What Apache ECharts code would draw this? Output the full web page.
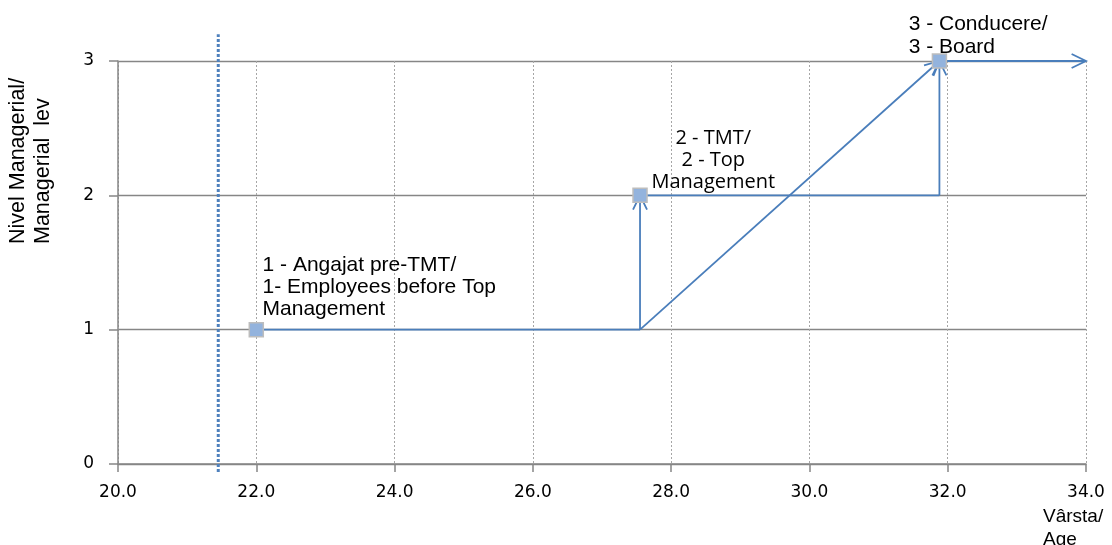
<!DOCTYPE html>
<html>
<head>
<meta charset="utf-8">
<script src="https://cdn.jsdelivr.net/npm/echarts@6/dist/echarts.min.js"></script>
<style>html,body{margin:0;padding:0;background:#fff;}#c{width:1112px;height:545px;}</style>
</head>
<body>
<div id="c"></div>
<script>
// ---- data ----
const ages = [22, 27.55, 31.88];
const levels = [1, 2, 3];
const levelLabels = [
  '1 - Angajat pre-TMT/\n1- Employees before Top\nManagement',
  '2 - TMT/\n2 - Top\nManagement',
  '3 - Conducere/\n3 - Board'
];
const arrowFrom = [[22, 1], [27.55, 1], [27.55, 1], [27.55, 2], [31.88, 2], [31.88, 3]];
const arrowTo   = [[27.55, 1], [27.55, 2], [31.88, 3], [31.88, 2], [31.88, 3], [34, 3]];
const arrowHead = [0, 1, 1, 0, 1, 1];
const dividerAge = 21.45;
const dividerRange = [-0.06, 3.2];
const xTitle = 'Vârsta/\nAge';
const yTitle = 'Nivel Managerial/\nManagerial  lev';

// ---- styles ----
const lineColor = '#4a7ebb';
const labelStyles = [
  {position: [14, -68], align: 'left', verticalAlign: 'top', fontFamily: 'Liberation Sans, Arial', fontSize: 21, lineHeight: 22},
  {position: [81, -60], align: 'center', verticalAlign: 'top', fontFamily: 'Open Sans', fontSize: 20, lineHeight: 22},
  {position: [-23, -41], align: 'left', verticalAlign: 'top', fontFamily: 'Liberation Sans, Arial', fontSize: 21, lineHeight: 23}
];

const arrowData = arrowFrom.map((f, i) => [f[0], f[1], arrowTo[i][0], arrowTo[i][1], arrowHead[i]]);
const pointData = ages.map((a, i) => ({
  value: [a, levels[i]],
  label: Object.assign({show: true, formatter: levelLabels[i], color: '#000'}, labelStyles[i])
}));

const chart = echarts.init(document.getElementById('c'));
chart.setOption({
  animation: false,
  grid: {left: 118, right: 26, top: 61, bottom: 81},
  xAxis: {
    type: 'value', min: 20, max: 34, interval: 2,
    axisLine: {show: true, lineStyle: {color: '#868686', width: 1.5}},
    axisTick: {show: true, length: 8, lineStyle: {color: '#868686', width: 1.5}},
    axisLabel: {margin: 20, color: '#000', fontFamily: 'DejaVu Sans', fontSize: 17, formatter: v => v.toFixed(1)},
    splitLine: {show: true, lineStyle: {color: '#a6a6a6', width: 1, type: [2, 2]}}
  },
  yAxis: {
    type: 'value', min: 0, max: 3, interval: 1,
    axisLine: {show: true, lineStyle: {color: '#868686', width: 1.5}},
    axisTick: {show: true, length: 9, lineStyle: {color: '#868686', width: 1.5}},
    axisLabel: {margin: 24, color: '#000', fontFamily: 'DejaVu Sans', fontSize: 17},
    splitLine: {show: true, lineStyle: {color: '#868686', width: 1.4}}
  },
  graphic: [
    {type: 'text', x: 31, y: 244, rotation: Math.PI / 2,
     style: {text: yTitle, align: 'left', verticalAlign: 'middle', fontFamily: 'Liberation Sans, Arial', fontSize: 21.5, lineHeight: 25, fill: '#000'}},
    {type: 'text', x: 1043, y: 505,
     style: {text: xTitle, align: 'left', verticalAlign: 'top', fontFamily: 'Liberation Sans, Arial', fontSize: 19, lineHeight: 23, fill: '#000'}}
  ],
  series: [
    {
      type: 'custom', z: 3, clip: false,
      data: [[dividerAge, dividerRange[0], dividerRange[1]]],
      renderItem: (params, api) => {
        const p1 = api.coord([api.value(0), api.value(1)]);
        const p2 = api.coord([api.value(0), api.value(2)]);
        return {type: 'line', shape: {x1: p1[0], y1: p1[1], x2: p2[0], y2: p2[1]},
          style: {stroke: '#4f81bd', lineWidth: 3, lineDash: [3, 2]}};
      }
    },
    {
      type: 'custom', z: 4, clip: false,
      data: arrowData,
      renderItem: (params, api) => {
        const p1 = api.coord([api.value(0), api.value(1)]);
        const p2 = api.coord([api.value(2), api.value(3)]);
        const children = [{type: 'line', shape: {x1: p1[0], y1: p1[1], x2: p2[0], y2: p2[1]},
          style: {stroke: lineColor, lineWidth: 1.8}}];
        if (api.value(4)) {
          const dx = p2[0] - p1[0], dy = p2[1] - p1[1];
          const len = Math.sqrt(dx * dx + dy * dy);
          const ux = dx / len, uy = dy / len;
          const L = 16, th = 26 * Math.PI / 180;
          const c = Math.cos(th), s = Math.sin(th);
          const w1 = [p2[0] - L * (ux * c - uy * s), p2[1] - L * (ux * s + uy * c)];
          const w2 = [p2[0] - L * (ux * c + uy * s), p2[1] - L * (-ux * s + uy * c)];
          children.push({type: 'polyline', shape: {points: [w1, p2, w2]},
            style: {stroke: lineColor, lineWidth: 1.8, fill: null}});
        }
        return {type: 'group', children};
      }
    },
    {
      type: 'scatter', z: 5,
      symbol: 'rect', symbolSize: 14,
      itemStyle: {color: '#93b3dd', borderColor: '#bdbdbd', borderWidth: 1.5, opacity: 1},
      data: pointData
    }
  ]
});
</script>
</body>
</html>
